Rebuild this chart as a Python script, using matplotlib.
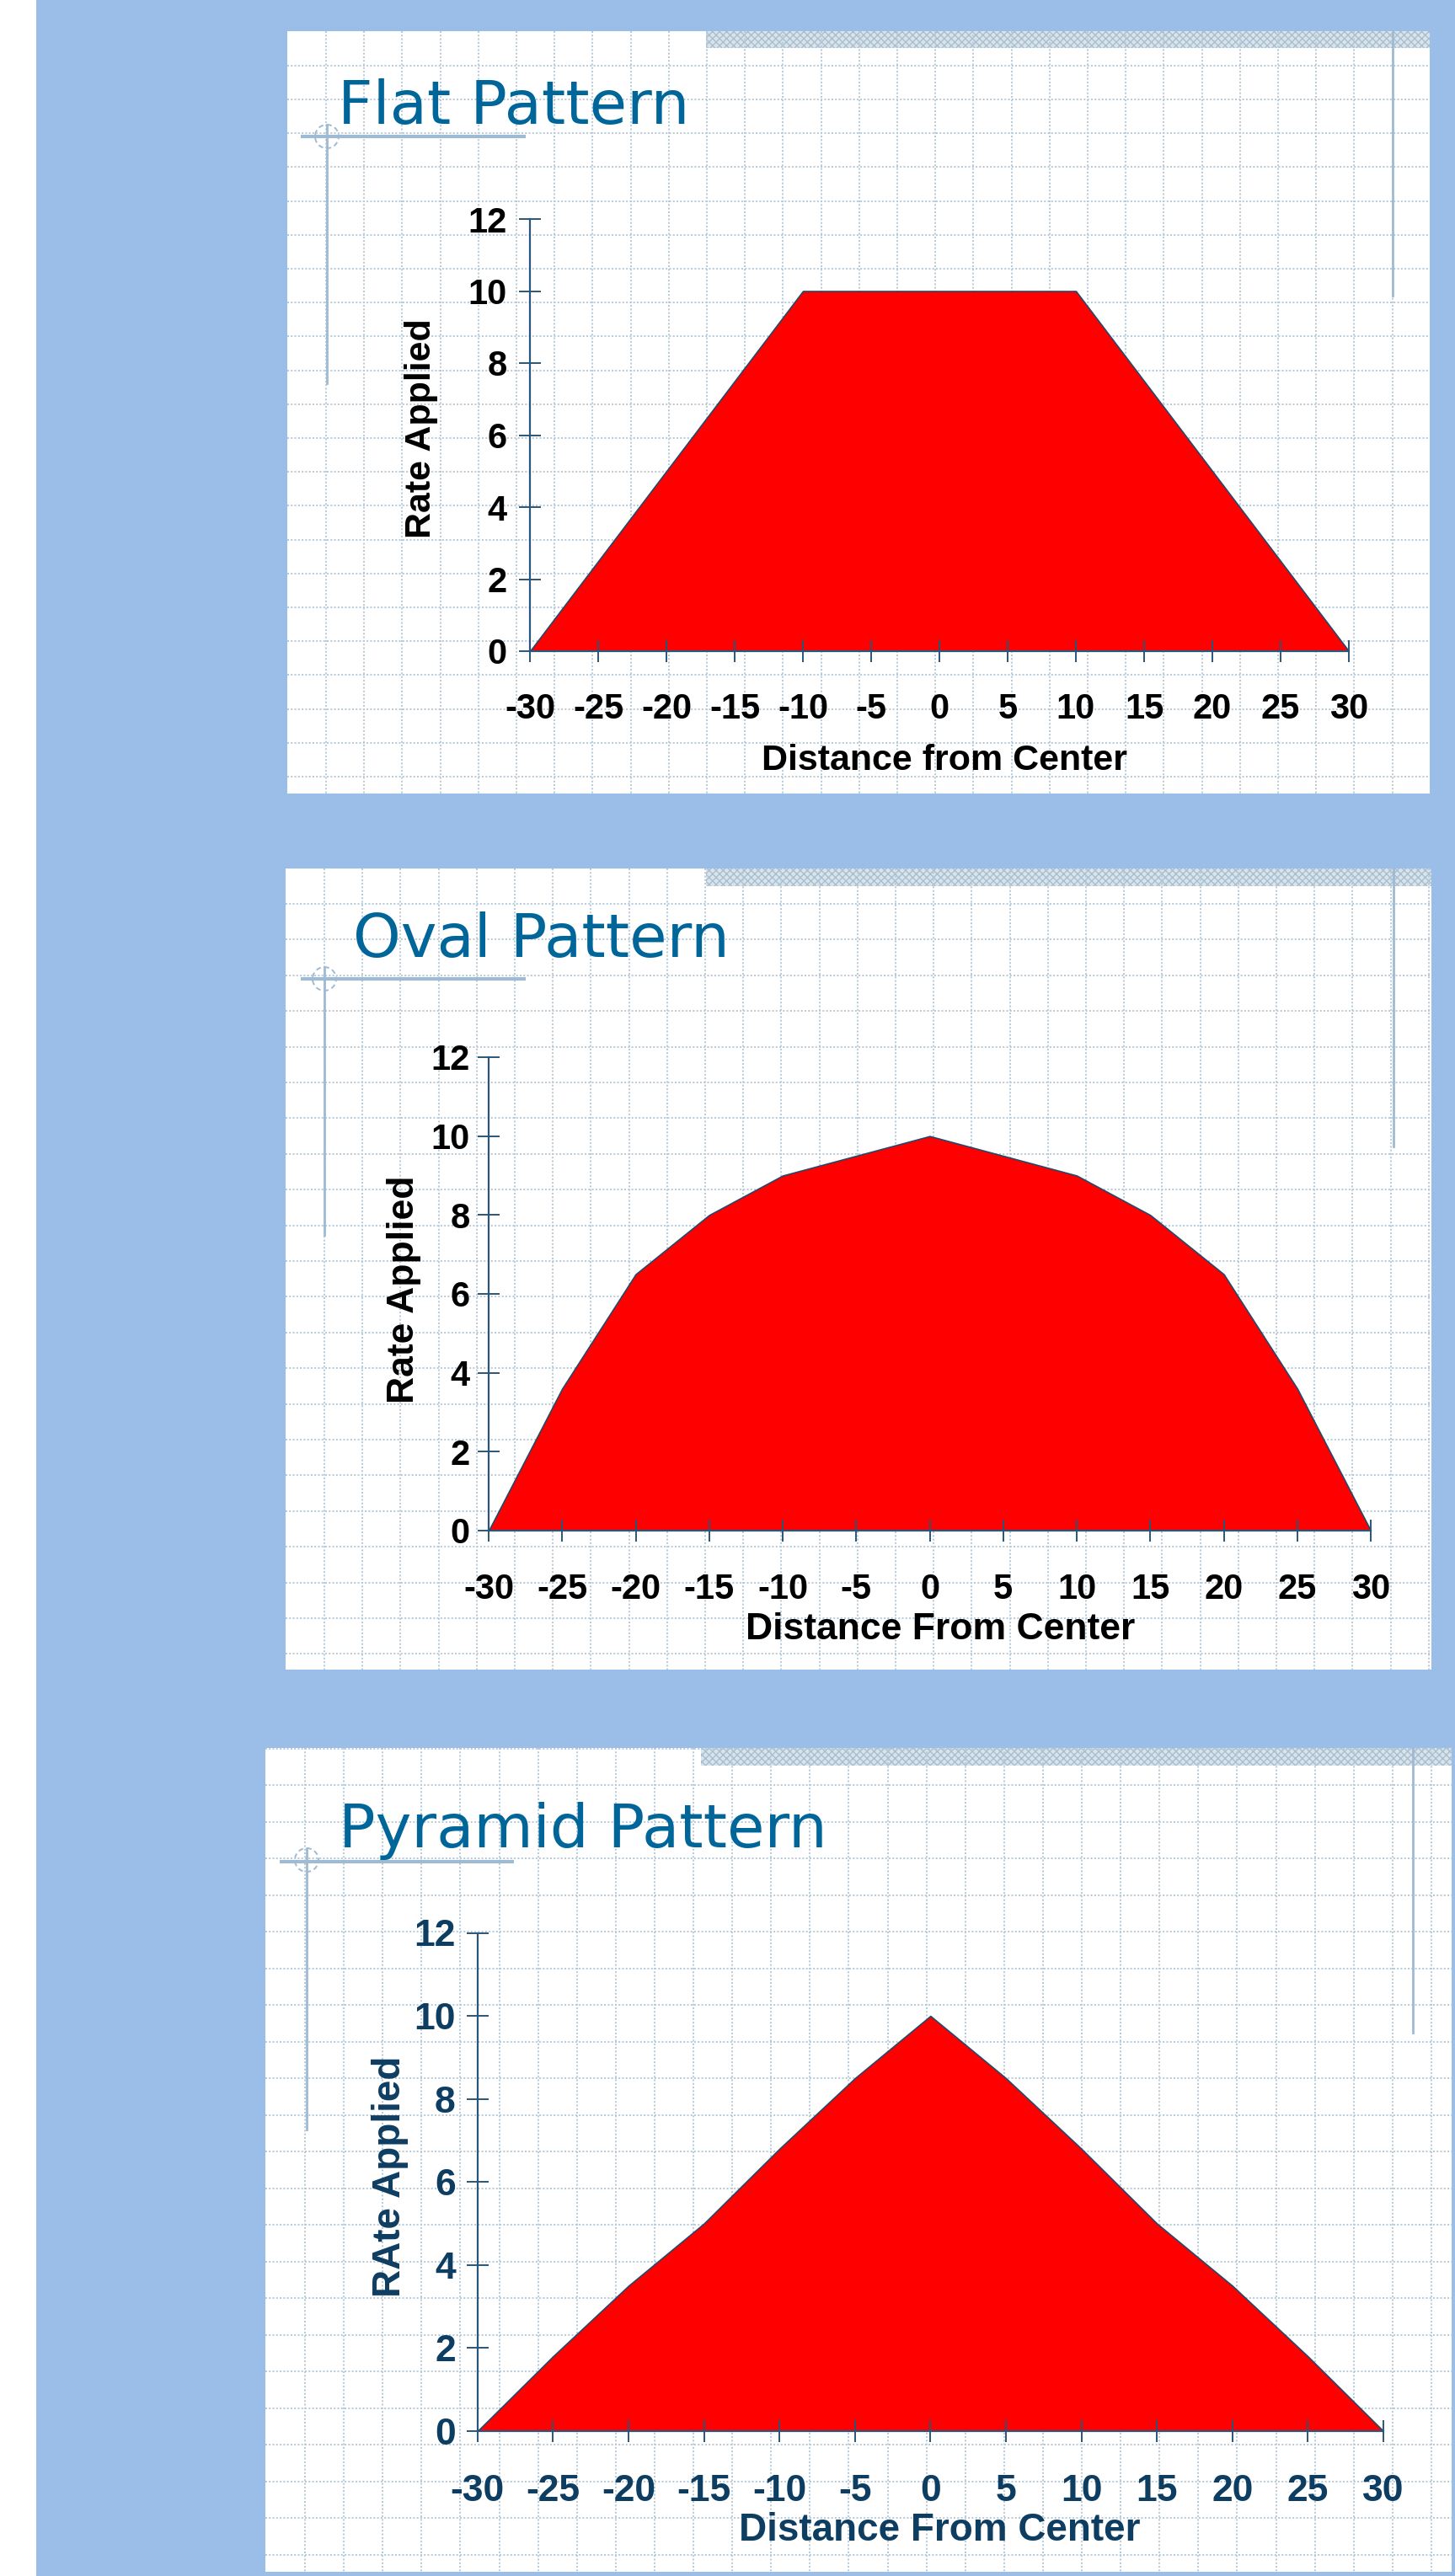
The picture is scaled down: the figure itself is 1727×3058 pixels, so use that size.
"""Three application-rate patterns (flat, oval, pyramid) drawn as slide panels."""

import matplotlib

matplotlib.use("Agg")
import matplotlib.pyplot as plt  # noqa: E402
import numpy as np  # noqa: E402
from matplotlib.patches import Circle, Rectangle  # noqa: E402

W, H, DPI = 1727, 3058, 100

# data
distance = [-30, -25, -20, -15, -10, -5, 0, 5, 10, 15, 20, 25, 30]
flat_rate = [0, 2.5, 5, 7.5, 10, 10, 10, 10, 10, 7.5, 5, 2.5, 0]
oval_rate = [0, 3.6, 6.5, 8, 9, 9.5, 10, 9.5, 9, 8, 6.5, 3.6, 0]
pyramid_rate = [0, 1.8, 3.5, 5, 6.8, 8.5, 10, 8.5, 6.8, 5, 3.5, 1.8, 0]
x_ticks = [-30, -25, -20, -15, -10, -5, 0, 5, 10, 15, 20, 25, 30]
y_ticks = [0, 2, 4, 6, 8, 10, 12]
titles = ["Flat Pattern", "Oval Pattern", "Pyramid Pattern"]
x_labels = ["Distance from Center", "Distance From Center", "Distance From Center"]
y_labels = ["Rate Applied", "Rate Applied", "RAte Applied"]
rates = [flat_rate, oval_rate, pyramid_rate]

BG_BLUE = "#9BBEE8"
GRID = "#B5C9D9"
DECO = "#9FBAD3"
TITLE = "#00669A"
AXIS = "#2B5677"
RED = "#FF0000"

# layout of each slide panel, in reference pixels (x0, y0, x1, y1)
PANELS = [
    dict(rect=(341, 37, 1697, 942), hatch=(838, 37, 1697, 57), title_xy=(401, 147),
         under=(357, 624, 162), circle=(388, 162), left_line=(388, 148, 455),
         right_line=(1653, 37, 351), grid_h=(77.7, 40.2), grid_v=(387, 45.2),
         ax=(629, 260, 1601, 773), text="black", tick_size=30, label_size=31,
         xpad=25.5, ypad=10, xlabel_at=(0.506, -0.214), ylabel_at=(-0.133, 0.515)),
    dict(rect=(339, 1031, 1699, 1982), hatch=(838, 1031, 1699, 1052), title_xy=(419, 1136),
         under=(357, 624, 1162), circle=(385, 1162), left_line=(385, 1148, 1466),
         right_line=(1654, 1031, 1361), grid_h=(1073, 42.4), grid_v=(385, 45.2),
         ax=(580, 1255, 1627, 1817), text="black", tick_size=30, label_size=32,
         xpad=26.5, ypad=6.5, xlabel_at=(0.512, -0.173), ylabel_at=(-0.096, 0.509)),
    dict(rect=(315, 2075, 1723, 3053), hatch=(832, 2075, 1723, 2096), title_xy=(402, 2193),
         under=(332, 610, 2210), circle=(364, 2208), left_line=(364, 2195, 2528),
         right_line=(1677, 2075, 2413), grid_h=(2075.5, 43.5), grid_v=(362, 46.1),
         ax=(566.7, 2294.5, 1642, 2886), text="#0E3D62", tick_size=32, label_size=33,
         xpad=27, ypad=9, xlabel_at=(0.51, -0.162), ylabel_at=(-0.096, 0.511)),
]

plt.rcParams["font.family"] = ["Liberation Sans", "DejaVu Sans"]
plt.rcParams["axes.unicode_minus"] = False
plt.rcParams["hatch.linewidth"] = 1.0


def frac(x0, y0, x1, y1):
    return [x0 / W, 1 - y1 / H, (x1 - x0) / W, (y1 - y0) / H]


def draw_slide(bg, p, title):
    x0, y0, x1, y1 = p["rect"]
    bg.add_patch(Rectangle((x0, y0), x1 - x0, y1 - y0, facecolor="white", lw=0))
    ys = np.arange(p["grid_h"][0], y1, p["grid_h"][1])
    xs = np.arange(p["grid_v"][0], x1, p["grid_v"][1])
    style = dict(color=GRID, lw=1.4, linestyle=(0, (1, 1.2)))
    bg.hlines(ys, x0, x1, **style)
    bg.vlines(xs, y0, y1, **style)
    hx0, hy0, hx1, hy1 = p["hatch"]
    bg.add_patch(Rectangle((hx0, hy0), hx1 - hx0, hy1 - hy0, facecolor="#D9E3EB",
                           edgecolor="#A9BFCF", hatch="xxxx", lw=0))
    bg.text(*p["title_xy"], title, fontsize=52, color=TITLE, family="DejaVu Sans",
            ha="left", va="baseline")
    ux0, ux1, uy = p["under"]
    bg.plot([ux0, ux1], [uy, uy], color=DECO, lw=3, solid_capstyle="butt")
    bg.add_patch(Circle(p["circle"], 14, fill=False, edgecolor=DECO, lw=1.4,
                        linestyle=(0, (3, 2))))
    lx, ly0, ly1 = p["left_line"]
    bg.plot([lx, lx], [ly0, ly1], color=DECO, lw=2)
    rx, ry0, ry1 = p["right_line"]
    bg.plot([rx, rx], [ry0, ry1], color=DECO, lw=2)


def draw_chart(fig, p, rate, xlabel, ylabel):
    ax = fig.add_axes(frac(*p["ax"]))
    ax.set_facecolor("none")
    ax.fill_between(distance, rate, color=RED, edgecolor="#24486A", lw=1.2)
    ax.set_xlim(-30, 30)
    ax.set_ylim(0, 12)
    ax.set_xticks(x_ticks)
    ax.set_yticks(y_ticks)
    ax.set_axisbelow(False)
    for side in ("top", "right"):
        ax.spines[side].set_visible(False)
    for side in ("left", "bottom"):
        ax.spines[side].set_color(AXIS)
        ax.spines[side].set_linewidth(1.6)
        ax.spines[side].set_zorder(3)
    ax.tick_params(direction="inout", length=19.4, width=1.4, color=AXIS,
                   labelsize=p["tick_size"], labelcolor=p["text"])
    ax.tick_params(axis="x", pad=p["xpad"])
    ax.tick_params(axis="y", pad=p["ypad"])
    for label in ax.get_xticklabels() + ax.get_yticklabels():
        label.set_fontweight("bold")
    ax.set_xlabel(xlabel, fontsize=p["label_size"], fontweight="bold", color=p["text"])
    ax.set_ylabel(ylabel, fontsize=p["label_size"], fontweight="bold", color=p["text"],
                  va="center")
    ax.xaxis.set_label_coords(*p["xlabel_at"])
    ax.yaxis.set_label_coords(*p["ylabel_at"])


def main():
    fig = plt.figure(figsize=(W / DPI, H / DPI), dpi=DPI, facecolor=BG_BLUE)
    bg = fig.add_axes([0, 0, 1, 1])
    bg.set_xlim(0, W)
    bg.set_ylim(H, 0)
    bg.axis("off")
    bg.add_patch(Rectangle((0, 0), 43, H, facecolor="white", lw=0))

    for p, title, rate, xlabel, ylabel in zip(PANELS, titles, rates, x_labels, y_labels):
        draw_slide(bg, p, title)
        draw_chart(fig, p, rate, xlabel, ylabel)

    fig.savefig("out.png", dpi=DPI, facecolor=BG_BLUE)


if __name__ == "__main__":
    main()
